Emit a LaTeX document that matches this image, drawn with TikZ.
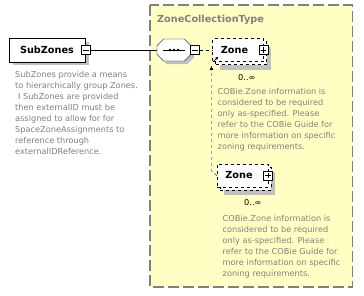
\documentclass[tikz,border=0pt]{standalone}
\usepackage{fontspec}
\setmainfont{DejaVu Sans}
\usetikzlibrary{shapes.misc,arrows.meta}
\definecolor{typebg}{HTML}{FFFFC4}
\definecolor{docgray}{HTML}{808080}
\definecolor{shadowgray}{HTML}{C0C0C0}
\newcommand{\docfont}{\fontsize{8.2}{11.1}\selectfont}
\newcommand{\namefont}{\fontsize{9.7}{11}\selectfont\bfseries}
\newcommand{\element}[4]{\node[fill=shadowgray,minimum width=76pt,minimum height=23.5pt] at (#2+3.5,#3+3.5) {};
  \node[draw,fill=white,minimum width=76pt,minimum height=23.5pt,font=\namefont] (#1) at (#2,#3) {#4};}
\newcommand{\refelem}[4]{\node[fill=shadowgray,minimum width=51pt,minimum height=23pt] at (#2+7,#3+8) {};
  \node[draw,dashed,fill=white,minimum width=51pt,minimum height=23pt] at (#2+3,#3+3) {};
  \node[draw,dashed,fill=white,minimum width=51pt,minimum height=23pt,font=\namefont] (#1) at (#2,#3) {#4\hspace*{7pt}};}
\newcommand{\minusbox}[3]{\node[draw,fill=white,minimum size=9pt,inner sep=0pt,line width=0.8pt] (#1) at (#2,#3) {};
  \draw ([xshift=2pt]#1.west) -- ([xshift=-2pt]#1.east);}
\newcommand{\plusbox}[3]{\minusbox{#1}{#2}{#3}\draw ([yshift=-2pt]#1.north) -- ([yshift=2pt]#1.south);}
\newcommand{\doc}[4]{\node[anchor=north west,align=left,inner sep=0pt,text=docgray,font=\docfont] (#1) at (#2,#3) {#4};}

\begin{document}
\begin{tikzpicture}[x=1pt,y=-1pt]
    \useasboundingbox (0,0) rectangle (364,295);
    \fill[white] (0,0) rectangle (364,295);
    % complex type frame
    \draw[docgray,fill=typebg,line width=1.3pt,dash pattern=on 11pt off 4pt] (150,5) rectangle (352.5,287);
    \node[anchor=base west,inner sep=0pt,text=docgray,font=\namefont] (typename) at (157,22) {ZoneCollectionType};
    \element{subzones}{47}{50}{SubZones} \minusbox{subminus}{86}{50}
    \doc{subdoc}{15}{70.8}{SubZones provide a means\\to hierarchically group Zones.\\\hspace*{3pt}I SubZones are provided\\then externalID must be\\assigned to allow for for\\SpaceZoneAssignments to\\reference through\\externalIDReference.}
    % sequence compositor
    \node[chamfered rectangle,chamfered rectangle xsep=6pt,fill=shadowgray,minimum width=34pt,minimum height=22pt] at (177,53) {};
    \node[chamfered rectangle,chamfered rectangle xsep=6pt,draw,fill=white,minimum width=34pt,minimum height=22pt] (seq) at (174,50) {};
    \draw (seq.center) ++(-11,0) -- ++(22,0);
    \foreach \dx in {-4,0,4} \fill (seq.center) ++(\dx,0) circle (1.4pt);
    \minusbox{seqminus}{195}{50}
    % zone references
    \refelem{zone1}{238}{50}{Zone} \plusbox{zone1plus}{263.5}{50}
    \node[anchor=base west,inner sep=0pt,font=\docfont] (zone1occ) at (238,80) {0..∞};
    \doc{zone1doc}{217.5}{87.8}{COBie.Zone information is\\considered to be required\\only as-specified. Please\\refer to the COBie Guide for\\more information on specific\\zoning requirements.}
    \refelem{zone2}{242.5}{175.5}{Zone} \plusbox{zone2plus}{268}{175.5}
    \node[anchor=base west,inner sep=0pt,font=\docfont] (zone2occ) at (244,205) {0..∞};
    \doc{zone2doc}{222.5}{214.8}{COBie.Zone information is\\considered to be required\\only as-specified. Please\\refer to the COBie Guide for\\more information on specific\\zoning requirements.}
    % connectors
    \draw (subminus.east) -- (seq.west);
    \draw[dashed] (seqminus.east) -- (zone1.west);
    \draw[-{Latex[length=3pt,width=3pt]}] ([shift={(1.5pt,0.5pt)}]zone1.south west) -- ([shift={(6pt,5pt)}]zone1.south west);
    \coordinate (bend) at (211.5,171); \coordinate (tip) at (211.5,66);
    \draw[dashed,-{Latex[length=4pt,width=4pt]}] (zone2.west) -- (bend) -- (tip);
\end{tikzpicture}
\end{document}
